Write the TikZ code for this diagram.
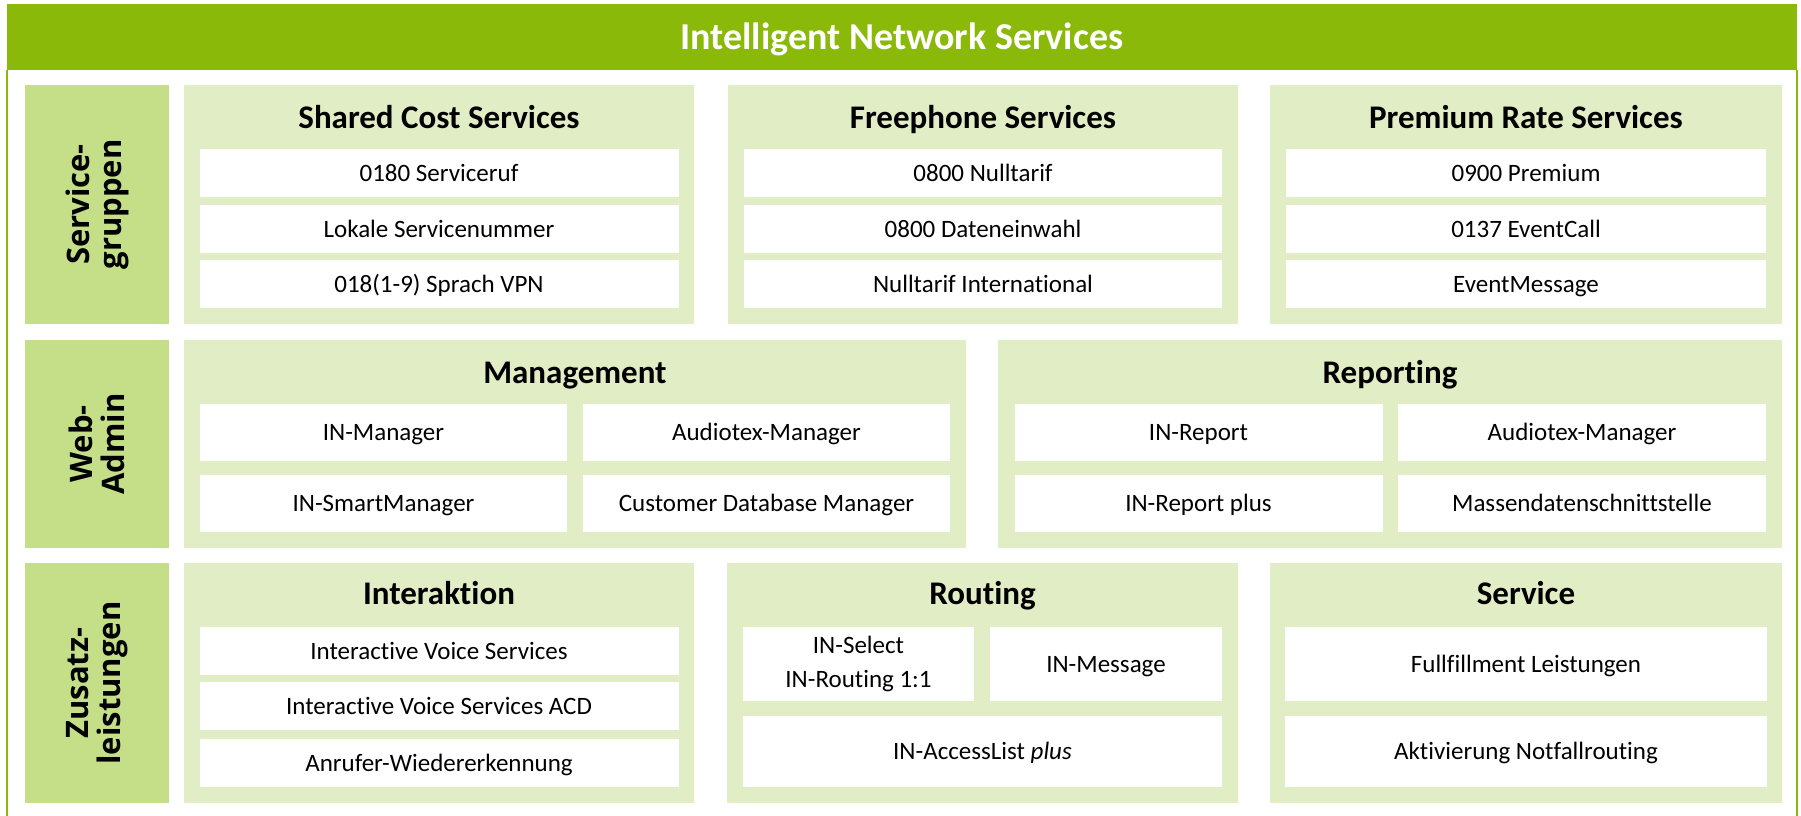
\documentclass[tikz,border=0pt]{standalone}
\usepackage{fontspec}
\setmainfont{Carlito}[Ligatures=NoCommon]
\newfontfamily\sidefont{Open Sans}
\usepackage{tikz}

\definecolor{ingreen}{RGB}{138,185,10}
\definecolor{sidegreen}{RGB}{197,223,136}
\definecolor{panelgreen}{RGB}{225,237,196}

\begin{document}
\begin{tikzpicture}[
    x=1pt, y=-1pt,
    banner/.style={rectangle, fill=ingreen, text=white, inner sep=0pt, minimum width=1790pt, minimum height=66pt, text height=26pt, text depth=1.5pt, font=\fontsize{38}{44}\selectfont\bfseries},
    sidebar/.style={rectangle, fill=sidegreen, rotate=90, inner sep=0pt, minimum height=144pt, align=center, font=\sidefont\fontsize{31}{32}\selectfont\bfseries},
    panel/.style={rectangle, fill=panelgreen, inner sep=0pt},
    heading/.style={inner sep=0pt, text height=23pt, text depth=2pt, font=\fontsize{33}{38}\selectfont\bfseries},
    entry/.style={rectangle, fill=white, inner sep=0pt, minimum height=48pt, text height=18pt, text depth=2pt, font=\fontsize{25}{34}\selectfont},
    twoline/.style={rectangle, fill=white, inner sep=0pt, align=center, font=\fontsize{25}{34}\selectfont},
    frame/.style={draw=ingreen, line width=2pt}
]
    \useasboundingbox (0,0) rectangle (1801,816);

    \node[banner] (title) at (902,37) {Intelligent Network Services};
    \draw[frame] (title.south west) -- (title.south west |- 0,816);
    \draw[frame] (title.south east) -- (title.south east |- 0,816);

    % Servicegruppen
    \node[sidebar, minimum width=239pt] (sg) at (97,204.5) {Service-\\gruppen};

    \node[panel, minimum width=510pt, minimum height=239pt] (shared) at (439,204.5) {};
    \node[heading] (sharedh) at (439,118) {Shared Cost Services};
    \node[entry, minimum width=479pt] (sc1) at (439,173) {0180 Serviceruf};
    \node[entry, minimum width=479pt] (sc2) at (439,229) {Lokale Servicenummer};
    \node[entry, minimum width=479pt] (sc3) at (439,284) {018(1-9) Sprach VPN};

    \node[panel, minimum width=510pt, minimum height=239pt] (free) at (983,204.5) {};
    \node[heading] (freeh) at (983,118) {Freephone Services};
    \node[entry, minimum width=478pt] (fp1) at (983,173) {0800 Nulltarif};
    \node[entry, minimum width=478pt] (fp2) at (983,229) {0800 Dateneinwahl};
    \node[entry, minimum width=478pt] (fp3) at (983,284) {Nulltarif International};

    \node[panel, minimum width=512pt, minimum height=239pt] (prem) at (1526,204.5) {};
    \node[heading] (premh) at (1526,118) {Premium Rate Services};
    \node[entry, minimum width=480pt] (pr1) at (1526,173) {0900 Premium};
    \node[entry, minimum width=480pt] (pr2) at (1526,229) {0137 EventCall};
    \node[entry, minimum width=480pt] (pr3) at (1526,284) {EventMessage};

    % Web-Admin
    \node[sidebar, minimum width=208pt] (wa) at (97,444) {Web-\\Admin};

    \node[panel, minimum width=782pt, minimum height=208pt] (mgmt) at (575,444) {};
    \node[heading] (mgmth) at (575,373) {Management};
    \node[entry, minimum width=367pt, minimum height=57pt] (mg1) at (383.5,432.5) {IN-Manager};
    \node[entry, minimum width=367pt, minimum height=57pt] (mg2) at (766.5,432.5) {Audiotex-Manager};
    \node[entry, minimum width=367pt, minimum height=57pt] (mg3) at (383.5,503.5) {IN-SmartManager};
    \node[entry, minimum width=367pt, minimum height=57pt] (mg4) at (766.5,503.5) {Customer Database Manager};

    \node[panel, minimum width=784pt, minimum height=208pt] (rep) at (1390,444) {};
    \node[heading] (reph) at (1390,373) {Reporting};
    \node[entry, minimum width=368pt, minimum height=57pt] (rp1) at (1198.5,432.5) {IN-Report};
    \node[entry, minimum width=368pt, minimum height=57pt] (rp2) at (1582,432.5) {Audiotex-Manager};
    \node[entry, minimum width=368pt, minimum height=57pt] (rp3) at (1198.5,503.5) {IN-Report plus};
    \node[entry, minimum width=368pt, minimum height=57pt] (rp4) at (1582,503.5) {Massendatenschnittstelle};

    % Zusatzleistungen
    \node[sidebar, minimum width=240pt] (zl) at (97,683) {Zusatz-\\leistungen};

    \node[panel, minimum width=510pt, minimum height=240pt] (inter) at (439,683) {};
    \node[heading] (interh) at (439,594) {Interaktion};
    \node[entry, minimum width=479pt] (ia1) at (439,651) {Interactive Voice Services};
    \node[entry, minimum width=479pt] (ia2) at (439,706) {Interactive Voice Services ACD};
    \node[entry, minimum width=479pt] (ia3) at (439,763) {Anrufer-Wiedererkennung};

    \node[panel, minimum width=511pt, minimum height=240pt] (rout) at (982.5,683) {};
    \node[heading] (routh) at (982.5,594) {Routing};
    \node[twoline, minimum width=231pt, minimum height=74pt] (rt1) at (858.5,664) {IN-Select\\IN-Routing 1:1};
    \node[entry, minimum width=232pt, minimum height=74pt] (rt2) at (1106,664) {IN-Message};
    \node[entry, minimum width=479pt, minimum height=71pt] (rt3) at (982.5,751.5) {IN-AccessList \textit{plus}};

    \node[panel, minimum width=512pt, minimum height=240pt] (serv) at (1526,683) {};
    \node[heading] (servh) at (1526,594) {Service};
    \node[entry, minimum width=482pt, minimum height=74pt] (sv1) at (1526,664) {Fullfillment Leistungen};
    \node[entry, minimum width=482pt, minimum height=71pt] (sv2) at (1526,751.5) {Aktivierung Notfallrouting};
\end{tikzpicture}
\end{document}
